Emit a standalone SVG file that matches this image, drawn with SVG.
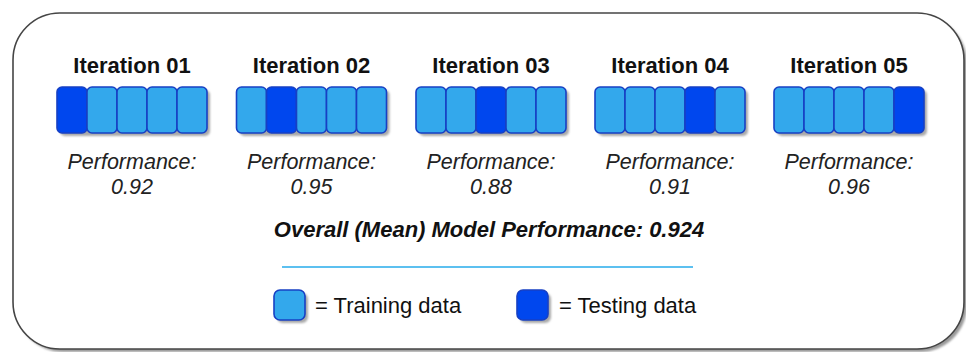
<svg xmlns="http://www.w3.org/2000/svg" width="966" height="352" viewBox="0 0 966 352">
  <defs>
    <filter id="soft" x="-10%" y="-10%" width="130%" height="130%">
      <feGaussianBlur stdDeviation="1.2"/>
    </filter>
  </defs>
  <style>
    .title { font-family: "Liberation Sans", Arial, sans-serif; font-weight: bold; font-size: 22px; fill: #111; text-anchor: middle; }
    .perf { font-family: "Liberation Sans", Arial, sans-serif; font-style: italic; font-size: 21.5px; fill: #222; text-anchor: middle; }
    .overall { font-family: "Liberation Sans", Arial, sans-serif; font-style: italic; font-weight: bold; font-size: 22px; fill: #111; text-anchor: middle; }
    .legend { font-family: "Liberation Sans", Arial, sans-serif; font-size: 22px; fill: #111; }
    .train { fill: #33a8ec; stroke: #1740c4; stroke-width: 1.6; }
    .test { fill: #0047ee; stroke: #1740c4; stroke-width: 1.6; }
    .shadow { fill: #a9a9a9; }
  </style>

  <!-- outer frame -->
  <g id="frame">
    <rect x="16" y="16" width="951" height="336" rx="47" fill="#9a9a9a" filter="url(#soft)"/>
    <rect x="13" y="13" width="951" height="336" rx="47" fill="#ffffff" stroke="#454545" stroke-width="1.6"/>
  </g>

  <!-- Iteration 01 -->
  <g id="iteration01">
    <text class="title" x="132" y="73">Iteration 01</text>
    <rect class="shadow" x="60" y="90" width="150" height="46" rx="5" filter="url(#soft)"/>
    <rect class="test" x="57" y="87" width="30" height="46" rx="5"/>
    <rect class="train" x="87" y="87" width="30" height="46" rx="5"/>
    <rect class="train" x="117" y="87" width="30" height="46" rx="5"/>
    <rect class="train" x="147" y="87" width="30" height="46" rx="5"/>
    <rect class="train" x="177" y="87" width="30" height="46" rx="5"/>
    <text class="perf" x="132" y="169">Performance:</text>
    <text class="perf" x="132" y="193.5">0.92</text>
  </g>

  <!-- Iteration 02 -->
  <g id="iteration02">
    <text class="title" x="311.5" y="73">Iteration 02</text>
    <rect class="shadow" x="239.5" y="90" width="150" height="46" rx="5" filter="url(#soft)"/>
    <rect class="train" x="236.5" y="87" width="30" height="46" rx="5"/>
    <rect class="test" x="266.5" y="87" width="30" height="46" rx="5"/>
    <rect class="train" x="296.5" y="87" width="30" height="46" rx="5"/>
    <rect class="train" x="326.5" y="87" width="30" height="46" rx="5"/>
    <rect class="train" x="356.5" y="87" width="30" height="46" rx="5"/>
    <text class="perf" x="311.5" y="169">Performance:</text>
    <text class="perf" x="311.5" y="193.5">0.95</text>
  </g>

  <!-- Iteration 03 -->
  <g id="iteration03">
    <text class="title" x="491" y="73">Iteration 03</text>
    <rect class="shadow" x="419" y="90" width="150" height="46" rx="5" filter="url(#soft)"/>
    <rect class="train" x="416" y="87" width="30" height="46" rx="5"/>
    <rect class="train" x="446" y="87" width="30" height="46" rx="5"/>
    <rect class="test" x="476" y="87" width="30" height="46" rx="5"/>
    <rect class="train" x="506" y="87" width="30" height="46" rx="5"/>
    <rect class="train" x="536" y="87" width="30" height="46" rx="5"/>
    <text class="perf" x="491" y="169">Performance:</text>
    <text class="perf" x="491" y="193.5">0.88</text>
  </g>

  <!-- Iteration 04 -->
  <g id="iteration04">
    <text class="title" x="670" y="73">Iteration 04</text>
    <rect class="shadow" x="598" y="90" width="150" height="46" rx="5" filter="url(#soft)"/>
    <rect class="train" x="595" y="87" width="30" height="46" rx="5"/>
    <rect class="train" x="625" y="87" width="30" height="46" rx="5"/>
    <rect class="train" x="655" y="87" width="30" height="46" rx="5"/>
    <rect class="test" x="685" y="87" width="30" height="46" rx="5"/>
    <rect class="train" x="715" y="87" width="30" height="46" rx="5"/>
    <text class="perf" x="670" y="169">Performance:</text>
    <text class="perf" x="670" y="193.5">0.91</text>
  </g>

  <!-- Iteration 05 -->
  <g id="iteration05">
    <text class="title" x="849" y="73">Iteration 05</text>
    <rect class="shadow" x="777" y="90" width="150" height="46" rx="5" filter="url(#soft)"/>
    <rect class="train" x="774" y="87" width="30" height="46" rx="5"/>
    <rect class="train" x="804" y="87" width="30" height="46" rx="5"/>
    <rect class="train" x="834" y="87" width="30" height="46" rx="5"/>
    <rect class="train" x="864" y="87" width="30" height="46" rx="5"/>
    <rect class="test" x="894" y="87" width="30" height="46" rx="5"/>
    <text class="perf" x="849" y="169">Performance:</text>
    <text class="perf" x="849" y="193.5">0.96</text>
  </g>

  <!-- summary -->
  <g id="summary">
    <text class="overall" x="489" y="237">Overall (Mean) Model Performance: 0.924</text>
    <line x1="282" y1="267" x2="693" y2="267" stroke="#5cc0f0" stroke-width="2"/>
  </g>

  <!-- legend -->
  <g id="legend">
    <rect class="shadow" x="277" y="293" width="31" height="30" rx="6" filter="url(#soft)"/>
    <rect class="train" x="274" y="290" width="31" height="30" rx="6"/>
    <text class="legend" x="315" y="313">= Training data</text>
    <rect class="shadow" x="520" y="293" width="31" height="30" rx="6" filter="url(#soft)"/>
    <rect class="test" x="517" y="290" width="31" height="30" rx="6"/>
    <text class="legend" x="559" y="313">= Testing data</text>
  </g>
</svg>
